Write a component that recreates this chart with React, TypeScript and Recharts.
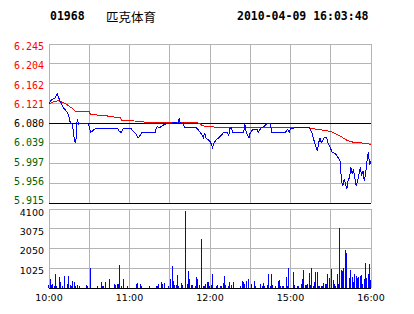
import {
  Bar,
  BarChart,
  CartesianGrid,
  Line,
  LineChart,
  ReferenceLine,
  XAxis,
  YAxis,
} from "recharts";

const PRE_CLOSE = 6.08;

const priceTicks = [5.915, 5.956, 5.997, 6.039, 6.08, 6.121, 6.162, 6.204, 6.245];
const pctTicks = [-2.71, -2.04, -1.36, -0.68, 0, 0.68, 1.36, 2.04, 2.71];
const timeTicks = [0, 30, 60, 90, 120, 150, 180, 210, 240];
const timeLabels = ["10:00", "", "11:00", "", "12:00", "", "15:00", "", "16:00"];
const volumeTicks = [0, 1025, 2050, 3075, 4100];

// minute index (0 = 10:00, 240 = 16:00) and last price
const priceMinutes = [
  0, 1, 2, 4, 5, 6, 7, 8, 9, 10, 11, 13, 14, 15, 16, 17, 18, 19, 20, 21, 22, 23, 29, 30,
  31, 33, 35, 51, 52, 54, 55, 56, 61, 62, 64, 65, 66, 67, 69, 79, 80, 81, 82, 84, 86, 89,
  92, 94, 96, 97, 98, 100, 101, 110, 112, 114, 115, 116, 117, 120, 121, 122, 123, 125,
  128, 130, 133, 134, 135, 136, 137, 145, 146, 147, 149, 150, 152, 155, 156, 158, 160,
  162, 165, 166, 176, 178, 179, 180, 183, 194, 196, 197, 198, 200, 201, 202, 203, 205,
  207, 208, 211, 214, 217, 218, 219, 220, 221, 222, 223, 224, 225, 226, 227, 228, 229,
  230, 232, 233, 234, 235, 236, 237, 238, 239, 240,
];
const priceValues = [
  6.121, 6.125, 6.13, 6.132, 6.135, 6.142, 6.135, 6.128, 6.123, 6.117, 6.112, 6.105, 6.101,
  6.092, 6.08, 6.08, 6.068, 6.044, 6.041, 6.089, 6.079, 6.08, 6.08, 6.074, 6.061, 6.066,
  6.07, 6.07, 6.065, 6.061, 6.068, 6.07, 6.07, 6.066, 6.061, 6.058, 6.05, 6.051, 6.061,
  6.061, 6.07, 6.074, 6.071, 6.074, 6.078, 6.081, 6.081, 6.083, 6.08, 6.09, 6.08, 6.081,
  6.071, 6.071, 6.064, 6.057, 6.05, 6.061, 6.05, 6.043, 6.037, 6.03, 6.04, 6.047, 6.054,
  6.061, 6.061, 6.055, 6.071, 6.071, 6.061, 6.061, 6.079, 6.061, 6.05, 6.061, 6.068,
  6.068, 6.061, 6.071, 6.073, 6.079, 6.079, 6.061, 6.061, 6.068, 6.061, 6.069, 6.071,
  6.071, 6.061, 6.05, 6.04, 6.023, 6.04, 6.05, 6.04, 6.05, 6.05, 6.04, 6.021, 6.016,
  6.002, 5.961, 5.951, 5.965, 5.954, 5.944, 5.963, 5.968, 5.989, 5.975, 5.985, 5.965,
  5.951, 5.961, 5.989, 5.971, 5.982, 5.961, 5.975, 6.002, 6.02, 5.995, 6.002,
];

// average price line
const avgMinutes = [
  0, 4, 7, 10, 13, 15, 18, 20, 30, 31, 43, 44, 53, 54, 70, 72, 112, 114, 118, 135, 160,
  165, 170, 194, 197, 200, 209, 212, 217, 221, 223, 227, 232, 237, 240,
];
const avgValues = [
  6.121, 6.126, 6.127, 6.124, 6.12, 6.116, 6.11, 6.105, 6.104, 6.098, 6.097, 6.094, 6.093,
  6.087, 6.084, 6.082, 6.081, 6.076, 6.073, 6.072, 6.071, 6.072, 6.071, 6.071, 6.069,
  6.068, 6.064, 6.061, 6.054, 6.047, 6.044, 6.041, 6.04, 6.038, 6.037,
];

const volumeMinutes = [
  0, 1, 2, 3, 4, 5, 6, 8, 9, 10, 12, 14, 15, 16, 17, 18, 19, 20, 21, 23, 28, 29, 31, 36,
  39, 40, 41, 42, 45, 49, 50, 51, 52, 53, 54, 56, 59, 65, 66, 68, 69, 75, 80, 81, 82, 84,
  85, 86, 89, 91, 92, 93, 94, 95, 96, 97, 99, 100, 102, 103, 104, 105, 106, 107, 109, 110,
  111, 112, 114, 115, 116, 117, 118, 119, 120, 121, 122, 125, 126, 128, 129, 130, 131,
  132, 134, 135, 136, 138, 143, 144, 145, 146, 147, 149, 150, 151, 153, 154, 158, 159,
  160, 161, 163, 164, 165, 166, 167, 169, 171, 172, 173, 174, 175, 177, 178, 179, 180,
  182, 183, 185, 186, 188, 189, 190, 191, 192, 193, 194, 195, 196, 197, 198, 199, 200,
  201, 202, 203, 204, 205, 206, 207, 208, 209, 210, 211, 212, 213, 214, 215, 216, 217,
  218, 219, 220, 221, 222, 224, 225, 226, 227, 228, 229, 230, 231, 232, 233, 234, 235,
  236, 237, 238, 239, 240,
];
const volumeValues = [
  170, 470, 150, 225, 120, 730, 120, 550, 330, 120, 600, 225, 600, 150, 100, 380, 330, 120,
  150, 120, 170, 100, 1020, 120, 330, 120, 120, 330, 470, 225, 150, 225, 225, 1190, 120,
  470, 120, 225, 260, 225, 100, 120, 120, 120, 225, 330, 225, 260, 120, 470, 1160, 380,
  170, 170, 690, 120, 260, 170, 3980, 225, 900, 485, 170, 170, 120, 590, 485, 150, 2560,
  120, 120, 225, 300, 330, 120, 150, 745, 120, 150, 120, 120, 275, 600, 150, 120, 330,
  150, 330, 120, 380, 330, 225, 380, 485, 260, 225, 380, 120, 225, 120, 260, 120, 150,
  745, 120, 745, 150, 120, 365, 430, 120, 120, 120, 590, 120, 1050, 120, 850, 150, 120,
  120, 190, 485, 950, 150, 150, 225, 800, 150, 1050, 120, 330, 850, 850, 120, 120, 120,
  120, 260, 190, 225, 745, 535, 170, 1000, 400, 210, 120, 745, 210, 3130, 950, 900, 1040,
  1990, 1830, 520, 935, 590, 330, 745, 600, 520, 555, 640, 690, 225, 470, 1315, 500, 745,
  1260, 415,
];

const GREEN = "#006000";
const GRID = "#b4b4b4";
const MONO = "'DejaVu Sans Mono', monospace";
const SANS = "'DejaVu Sans', sans-serif";

const allMinutes = Array.from(new Set([...priceMinutes, ...avgMinutes])).sort((a, b) => a - b);
const lineData = allMinutes.map((m) => {
  const pi = priceMinutes.indexOf(m);
  const ai = avgMinutes.indexOf(m);
  return {
    m,
    price: pi >= 0 ? priceValues[pi] : null,
    avg: ai >= 0 ? avgValues[ai] : null,
  };
});

const volumeData = volumeMinutes.map((m, i) => ({ m, v: volumeValues[i] }));

const toneOf = (v: number, mid: number) =>
  Math.abs(v - mid) < 1e-6 ? "#000" : v > mid ? "#ff0000" : GREEN;

// labels in the original drift a little: pushed down at the top, up at the bottom
const labelShift = (i: number, n: number) => 2.7 - (5 * i) / (n - 1);

const PriceTick = (props: any) => {
  const { x, y, payload } = props;
  const v = Number(payload.value);
  const i = priceTicks.findIndex((t) => Math.abs(t - v) < 1e-6);
  return (
    <text
      x={x}
      y={y + labelShift(priceTicks.length - 1 - i, priceTicks.length)}
      dy="0.35em"
      textAnchor="end"
      fontFamily={MONO}
      fontSize={10}
      fill={toneOf(v, PRE_CLOSE)}
    >
      {v.toFixed(3)}
    </text>
  );
};

const PctTick = (props: any) => {
  const { x, y, payload } = props;
  const v = Number(payload.value);
  const i = pctTicks.findIndex((t) => Math.abs(t - v) < 1e-6);
  const sign = v > 0 ? "+" : v < 0 ? "-" : "";
  return (
    <text
      x={x + (v === 0 ? 6 : 0)}
      y={y + labelShift(pctTicks.length - 1 - i, pctTicks.length)}
      dy="0.35em"
      textAnchor="start"
      fontFamily={MONO}
      fontSize={10}
      fill={toneOf(v, 0)}
    >
      {`${sign}${Math.abs(v).toFixed(2)} %`}
    </text>
  );
};

const VolumeTick = (props: any) => {
  const { x, y, payload } = props;
  const v = Number(payload.value);
  if (v === 0) return null;
  return (
    <text
      x={x}
      y={y + (v === volumeTicks[volumeTicks.length - 1] ? 4 : 2.5)}
      dy="0.35em"
      textAnchor="end"
      fontFamily={SANS}
      fontSize={9.5}
      fill="#000"
    >
      {v}
    </text>
  );
};

const VolumeBar = (props: any) => {
  const { x, y, width, height } = props;
  if (!height || height <= 0) return null;
  return (
    <rect
      x={Math.round(x)}
      y={y}
      width={Math.max(1, Math.round(width))}
      height={height}
      fill="#0000ff"
      shapeRendering="crispEdges"
    />
  );
};

const timeGridLines = (prefix: string) =>
  timeTicks.map((t) => (
    <ReferenceLine key={`${prefix}${t}`} x={t} stroke={GRID} strokeWidth={1} shapeRendering="crispEdges" />
  ));

export default function App() {
  return (
    <div
      style={{
        position: "fixed",
        left: 0,
        top: 0,
        width: 414,
        height: 314,
        background: "#fff",
        overflow: "hidden",
      }}
    >
      <div style={{ position: "absolute", left: 50, top: 9, fontFamily: MONO, fontWeight: "bold", fontSize: 11.5 }}>
        01968
      </div>
      <div style={{ position: "absolute", left: 106, top: 7, fontFamily: "'Noto Sans CJK SC'", fontSize: 12.5 }}>
        匹克体育
      </div>
      <div style={{ position: "absolute", left: 237, top: 9, fontFamily: MONO, fontWeight: "bold", fontSize: 11.5 }}>
        2010-04-09 16:03:48
      </div>

      <div style={{ position: "absolute", left: 0, top: 0 }}>
        <LineChart width={414} height={210} data={lineData} margin={{ top: 44, right: 0, bottom: 7, left: 0 }}>
          <CartesianGrid stroke={GRID} strokeWidth={1} vertical={false} shapeRendering="crispEdges" />
          <XAxis dataKey="m" type="number" domain={[0, 240]} ticks={timeTicks} hide />
          <YAxis
            domain={[priceTicks[0], priceTicks[priceTicks.length - 1]]}
            ticks={priceTicks}
            width={49}
            axisLine={false}
            tickLine={false}
            tickSize={0}
            tickMargin={5}
            tick={<PriceTick />}
            interval={0}
          />
          <YAxis
            yAxisId="pct"
            orientation="right"
            domain={[pctTicks[0], pctTicks[pctTicks.length - 1]]}
            ticks={pctTicks}
            width={43}
            axisLine={false}
            tickLine={false}
            tickSize={0}
            tickMargin={1}
            tick={<PctTick />}
            interval={0}
          />
          {timeGridLines("p")}
          <ReferenceLine y={PRE_CLOSE} stroke="#000" shapeRendering="crispEdges" />
          <ReferenceLine y={priceTicks[0]} stroke="#000" shapeRendering="crispEdges" />
          <Line
            dataKey="avg"
            type="linear"
            stroke="#ff0000"
            strokeWidth={1}
            dot={false}
            connectNulls
            shapeRendering="crispEdges"
            isAnimationActive={false}
          />
          <Line
            dataKey="price"
            type="linear"
            stroke="#0000ff"
            strokeWidth={1}
            dot={false}
            connectNulls
            shapeRendering="crispEdges"
            isAnimationActive={false}
          />
        </LineChart>
      </div>

      <div style={{ position: "absolute", left: 0, top: 200 }}>
        <BarChart width={414} height={114} data={volumeData} margin={{ top: 9, right: 43, bottom: 0, left: 0 }}>
          <CartesianGrid stroke={GRID} strokeWidth={1} vertical={false} shapeRendering="crispEdges" />
          <XAxis
            dataKey="m"
            type="number"
            domain={[0, 240]}
            ticks={timeTicks}
            interval={0}
            height={26}
            axisLine={false}
            tickLine={false}
            tickSize={0}
            tickMargin={6}
            tick={{ fontFamily: SANS, fontSize: 9.5, fill: "#000" }}
            tickFormatter={(v: number) => timeLabels[timeTicks.indexOf(v)] ?? ""}
          />
          <YAxis
            domain={[0, 4100]}
            ticks={volumeTicks}
            width={49}
            axisLine={false}
            tickLine={false}
            tickSize={0}
            tickMargin={5}
            interval={0}
            tick={<VolumeTick />}
          />
          {timeGridLines("v")}
          <ReferenceLine y={0} stroke="#000" shapeRendering="crispEdges" />
          <Bar dataKey="v" barSize={1} shape={<VolumeBar />} isAnimationActive={false} />
        </BarChart>
      </div>
    </div>
  );
}
